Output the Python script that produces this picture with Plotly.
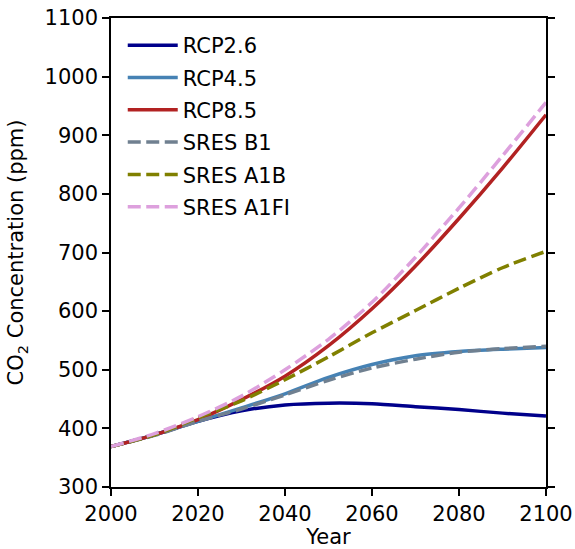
import plotly.graph_objects as go

# Projected atmospheric CO2 concentration (ppm), decadal values
years = [2000, 2010, 2020, 2030, 2040, 2050, 2060, 2070, 2080, 2090, 2100]

rcp26 = [369, 389, 412, 430, 440, 443, 442, 437, 432, 426, 421]
rcp45 = [369, 389, 412, 435, 459, 487, 509, 524, 531, 535, 538]
rcp85 = [369, 389, 415, 449, 489, 541, 604, 677, 758, 844, 935]
sres_b1 = [369, 388, 412, 433, 457, 482, 503, 518, 530, 536, 540]
sres_a1b = [369, 389, 418, 447, 483, 522, 563, 601, 639, 674, 702]
sres_a1fi = [369, 391, 420, 455, 500, 552, 615, 692, 776, 865, 956]

series = [
    ("RCP2.6", rcp26, "#00008B", "solid"),
    ("RCP4.5", rcp45, "#4682B4", "solid"),
    ("RCP8.5", rcp85, "#B22222", "solid"),
    ("SRES B1", sres_b1, "#708090", "13px,5.5px"),
    ("SRES A1B", sres_a1b, "#808000", "13px,5.5px"),
    ("SRES A1FI", sres_a1fi, "#DDA0DD", "13px,5.5px"),
]

fig = go.Figure()
for i, (name, vals, color, dash) in enumerate(series):
    fig.add_trace(go.Scatter(
        x=years, y=vals, name=name, mode="lines",
        line=dict(color=color, width=3.5, dash=dash, shape="spline", smoothing=0.8),
        legendgroup=f"g{i}",
    ))

font = dict(family="DejaVu Sans", size=21, color="black")

fig.update_layout(
    width=575, height=549,
    margin=dict(l=111, r=29, t=18, b=62),
    paper_bgcolor="white", plot_bgcolor="white",
    font=font,
    showlegend=True,
    legend=dict(
        x=0.027, y=0.985, xanchor="left", yanchor="top",
        bgcolor="rgba(0,0,0,0)", borderwidth=0,
        font=font, tracegroupgap=2, itemwidth=50,
    ),
    xaxis=dict(
        range=[2000, 2100], tickvals=[2000, 2020, 2040, 2060, 2080, 2100],
        showgrid=False, zeroline=False, automargin=False,
        showline=True, linecolor="black", linewidth=1.5, mirror=True,
        ticks="outside", ticklen=7, tickwidth=1.5, tickcolor="black",
        title=dict(text="Year", font=font, standoff=10),
    ),
    yaxis=dict(
        range=[300, 1100], tickvals=list(range(300, 1101, 100)),
        showgrid=False, zeroline=False, automargin=False,
        showline=True, linecolor="black", linewidth=1.5, mirror="ticks",
        ticks="outside", ticklen=7, tickwidth=1.5, tickcolor="black",
        title=dict(text="CO<sub>2</sub> Concentration (ppm)", font=font, standoff=15),
    ),
)

fig.write_html("out.html")
